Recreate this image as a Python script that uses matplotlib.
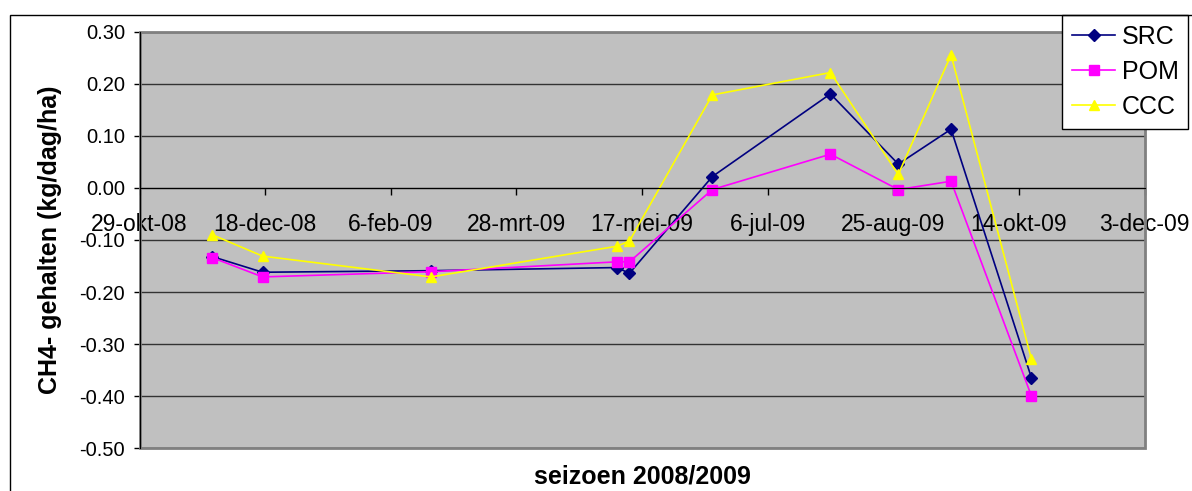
import numpy as np
import matplotlib
matplotlib.use('Agg')
import matplotlib.pyplot as plt
from matplotlib.patches import Rectangle

# meetdata CH4 (kg/dag/ha), seizoen 2008/2009
dates = np.array(['2008-11-27', '2008-12-17', '2009-02-22', '2009-05-07', '2009-05-12',
                  '2009-06-14', '2009-07-31', '2009-08-27', '2009-09-17', '2009-10-19'],
                 dtype='datetime64[D]')
src = [-0.132, -0.162, -0.159, -0.153, -0.164, 0.022, 0.181, 0.046, 0.113, -0.365]
pom = [-0.134, -0.171, -0.161, -0.142, -0.142, -0.003, 0.065, -0.003, 0.013, -0.400]
ccc = [-0.090, -0.131, -0.171, -0.112, -0.102, 0.179, 0.222, 0.026, 0.256, -0.329]

tick_dates = np.array(['2008-10-29', '2008-12-18', '2009-02-06', '2009-03-28', '2009-05-17',
                       '2009-07-06', '2009-08-25', '2009-10-14', '2009-12-03'],
                      dtype='datetime64[D]')
tick_labels = ['29-okt-08', '18-dec-08', '6-feb-09', '28-mrt-09', '17-mei-09',
               '6-jul-09', '25-aug-09', '14-okt-09', '3-dec-09']
y_ticks = [-0.5, -0.4, -0.3, -0.2, -0.1, 0.0, 0.1, 0.2, 0.3]

plt.rcParams['font.family'] = ['Liberation Sans', 'DejaVu Sans']

fig = plt.figure(figsize=(11.92, 4.91), dpi=100)
ax = fig.add_axes([139.5 / 1192, 43 / 491, 1005 / 1192, 416 / 491])
ax.set_facecolor('#C0C0C0')

ax.plot(dates, src, color='#000080', marker='D', ms=6, lw=1.2, label='SRC')
ax.plot(dates, pom, color='#FF00FF', marker='s', ms=6.5, lw=1.2, label='POM')
ax.plot(dates, ccc, color='#FFFF00', marker='^', ms=7.5, lw=1.2, label='CCC')

ax.set_xlim(tick_dates[0], tick_dates[-1])
ax.set_ylim(-0.5, 0.3)
ax.set_yticks(y_ticks)
ax.set_yticklabels([f'{v:.2f}' for v in y_ticks])
ax.set_xticks(tick_dates)
ax.set_xticklabels(tick_labels)

ax.spines['bottom'].set_position(('data', 0))
ax.spines['bottom'].set_color('black')
ax.spines['left'].set_color('black')
ax.spines['top'].set_visible(False)
ax.spines['right'].set_visible(False)
ax.add_patch(Rectangle((0, 0), 1, 1, transform=ax.transAxes, fill=False,
                       edgecolor='#808080', lw=2, zorder=0.6, clip_on=False))

ax.yaxis.grid(True, color='#333333', lw=1)
ax.set_axisbelow(True)
ax.tick_params(axis='x', direction='out', length=5, pad=13, width=1, labelsize=16.5)
ax.tick_params(axis='y', direction='out', length=4.5, pad=6, width=1, labelsize=14.5)

ax.set_ylabel('CH4- gehalten (kg/dag/ha)', fontsize=18, fontweight='bold', va='center')
ax.yaxis.set_label_coords(-0.089, 0.5)
ax.set_xlabel('seizoen 2008/2009', fontsize=18, fontweight='bold', va='center')
ax.xaxis.set_label_coords(0.5, -0.069)

leg = ax.legend(loc='upper right', bbox_to_anchor=(1188 / 1192, 1 - 15 / 491),
                bbox_transform=fig.transFigure, fontsize=18, fancybox=False,
                edgecolor='black', framealpha=1, borderpad=0.38, labelspacing=0.45,
                handlelength=1.75, handletextpad=0.25, borderaxespad=0)
leg.get_frame().set_linewidth(1)

# buitenrand van de grafiek
fig.patches.append(Rectangle((10 / 1192, -0.1), 1.2, 1.1 - 15 / 491, transform=fig.transFigure,
                             fill=False, edgecolor='black', lw=1))

fig.savefig('out.png', dpi=100)
